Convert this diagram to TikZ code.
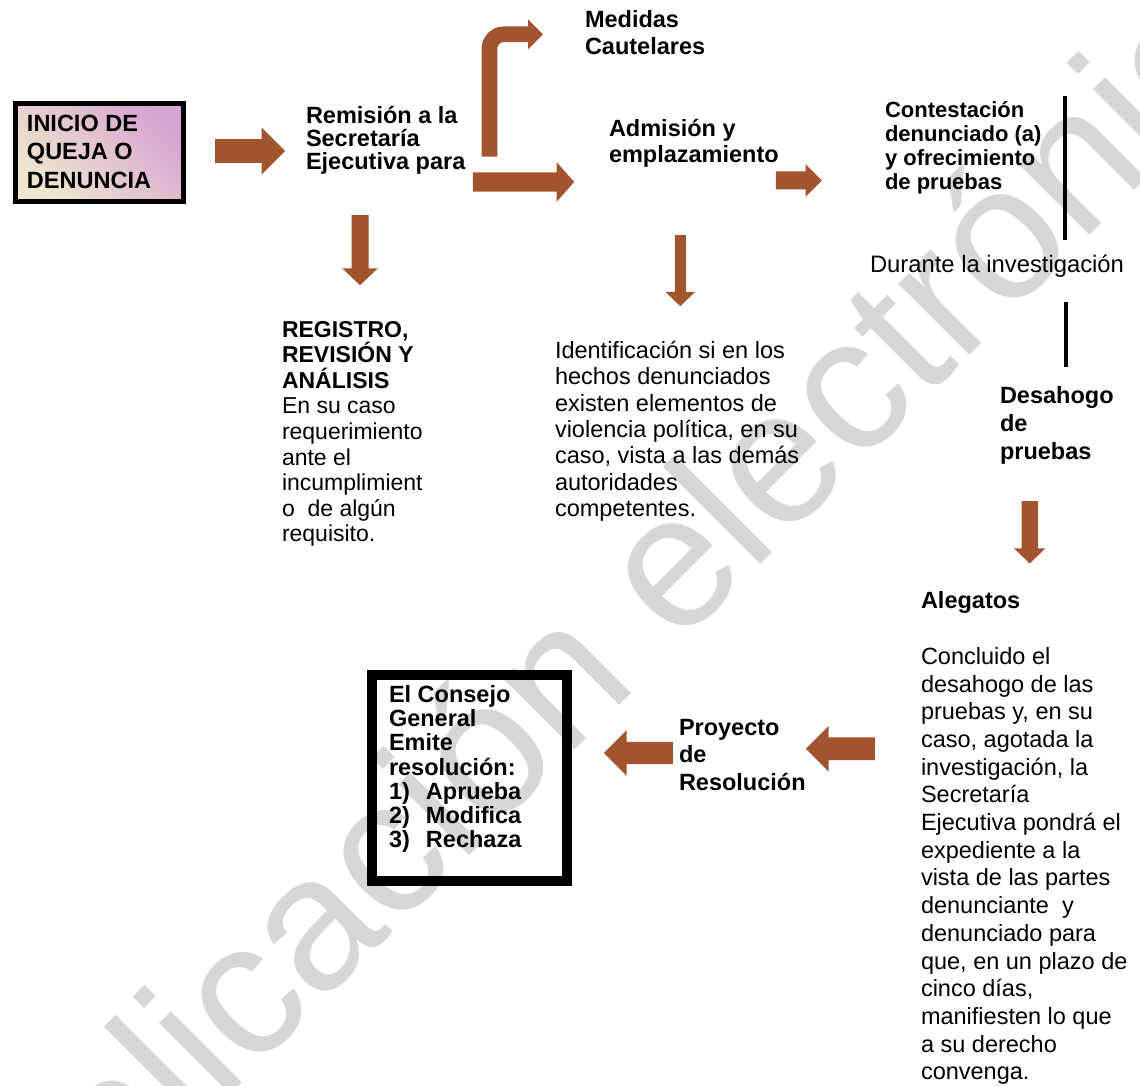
\documentclass[tikz,border=0pt]{standalone}
\usepackage{fontspec}
\setmainfont{Liberation Sans}
\usetikzlibrary{shapes.arrows}
\definecolor{sienna}{RGB}{161,84,46}
\definecolor{cream}{RGB}{238,231,205}
\definecolor{lavender}{RGB}{214,165,210}
\definecolor{wmgray}{RGB}{215,215,215}
\newcommand\ptxt[3]{\parbox[t]{400pt}{\raggedright\fontsize{#1}{#2}\selectfont #3}}
\tikzset{
  barrow/.style={single arrow, fill=sienna, draw=none, inner xsep=0pt, anchor=tail},
  lbl/.style={anchor=base west, inner sep=0pt, outer sep=0pt},
}
\begin{document}
\begin{tikzpicture}[x=1pt,y=-1pt]
\useasboundingbox (0,0) rectangle (1140,1086);
\clip (0,0) rectangle (1140,1086);
\fill[white] (0,0) rectangle (1140,1086);
% watermark
\node[lbl, rotate=45, text=wmgray, font=\fontsize{190}{190}\selectfont] (wm) at (-47,1372) {Publicación electrónica};

% start box
\node[draw=black, line width=5pt, top color=lavender, bottom color=cream, shading angle=-45,
      minimum width=168pt, minimum height=98pt, anchor=north west, inner sep=0pt] (inicio) at (12.5,101.5) {};
\node[lbl] (iniciotxt) at (27,131.7) {\ptxt{23.5}{28.3}{\bfseries INICIO DE\\QUEJA O\\DENUNCIA}};

% texts
\node[lbl] (remision) at (306,123.3) {\ptxt{23.5}{23}{\bfseries Remisión a la\\Secretaría\\Ejecutiva para}};
\node[lbl] (medidas) at (585,27.7) {\ptxt{23.5}{26.5}{\bfseries Medidas\\Cautelares}};
\node[lbl] (admision) at (609,136.7) {\ptxt{23.5}{26}{\bfseries Admisión y\\emplazamiento}};
\node[lbl] (contestacion) at (885,118) {\ptxt{22}{24}{\bfseries Contestación\\denunciado (a)\\y ofrecimiento\\de pruebas}};
\node[lbl] (durante) at (870,272) {\ptxt{23.8}{26}{Durante la investigación}};
\node[lbl] (registro) at (282,337) {\ptxt{23}{25.6}{\textbf{REGISTRO,\\REVISIÓN Y\\ANÁLISIS}\\En su caso\\requerimiento\\ante el\\incumplimient\\o~ de algún\\requisito.}};
\node[lbl] (identificacion) at (555,358.3) {\ptxt{23.5}{26.4}{Identificación si en los\\hechos denunciados\\existen elementos de\\violencia política, en su\\caso, vista a las demás\\autoridades\\competentes.}};
\node[lbl] (desahogo) at (1000,403.3) {\ptxt{23.5}{28}{\bfseries Desahogo\\de\\pruebas}};
\node[lbl] (alegatos) at (921,608.3) {\ptxt{23.5}{26}{\bfseries Alegatos}};
\node[lbl] (concluido) at (921,664.3) {\ptxt{23.5}{27.7}{Concluido el\\desahogo de las\\pruebas y, en su\\caso, agotada la\\investigación, la\\Secretaría\\Ejecutiva pondrá el\\expediente a la\\vista de las partes\\denunciante~ y\\denunciado para\\que, en un plazo de\\cinco días,\\manifiesten lo que\\a su derecho\\convenga.}};
\node[lbl] (proyecto) at (679,735) {\ptxt{23.5}{27.5}{\bfseries Proyecto\\de\\Resolución}};

% final box
\draw[line width=10pt] (371.7,675) rectangle (567.3,881);
\node[lbl] (consejo) at (389,702.7) {\ptxt{23.5}{24.1}{\bfseries El Consejo\\General\\Emite\\resolución:\\\makebox[37pt][l]{1)}Aprueba\\\makebox[37pt][l]{2)}Modifica\\\makebox[37pt][l]{3)}Rechaza}};

% vertical bars
\draw[line width=4.5pt] (1065,96) -- (1065,240);
\draw[line width=4.5pt] (1066,302) -- (1066,367);

% block arrows (inner ysep = half shaft width)
\node[barrow, inner ysep=11.7pt, minimum height=70pt, minimum width=46.6pt, single arrow head extend=11.6pt] (a1) at (215,151) {};
\node[barrow, inner ysep=9.5pt, minimum height=101.3pt, minimum width=39.4pt, single arrow head extend=10.2pt, single arrow tip angle=97] (a2) at (472.7,182) {};
\node[barrow, inner ysep=8.8pt, minimum height=46pt, minimum width=32pt, single arrow head extend=7.2pt] (a3) at (775.7,180.5) {};
\node[barrow, rotate=-90, inner ysep=8.3pt, minimum height=70pt, minimum width=35pt, single arrow head extend=9.2pt, single arrow tip angle=93] (a4) at (360,215) {};
\node[barrow, rotate=-90, inner ysep=5.35pt, minimum height=71pt, minimum width=29.4pt, single arrow head extend=9.35pt, single arrow tip angle=92] (a5) at (680.3,235) {};
\node[barrow, rotate=-90, inner ysep=8pt, minimum height=62.3pt, minimum width=31pt, single arrow head extend=7.5pt, single arrow tip angle=92] (a6) at (1029.7,501) {};
\node[barrow, rotate=180, inner ysep=11.15pt, minimum height=69pt, minimum width=45pt, single arrow head extend=11.35pt] (a7) at (875,748.8) {};
\node[barrow, rotate=180, inner ysep=10.85pt, minimum height=69pt, minimum width=45.3pt, single arrow head extend=11.8pt] (a8) at (673,753) {};

% bent arrow to Medidas Cautelares
\coordinate (bstart) at (489.5,156.7);
\coordinate (bcorner) at (489.5,34.3);
\coordinate (bhead) at (528.5,34.3);
\draw[sienna, line width=15.6pt, rounded corners=14pt] (bstart) -- (bcorner) -- (bhead);
\fill[sienna] (528,19.3) -- (543,34.3) -- (528,49.3) -- cycle;
\end{tikzpicture}
\end{document}
